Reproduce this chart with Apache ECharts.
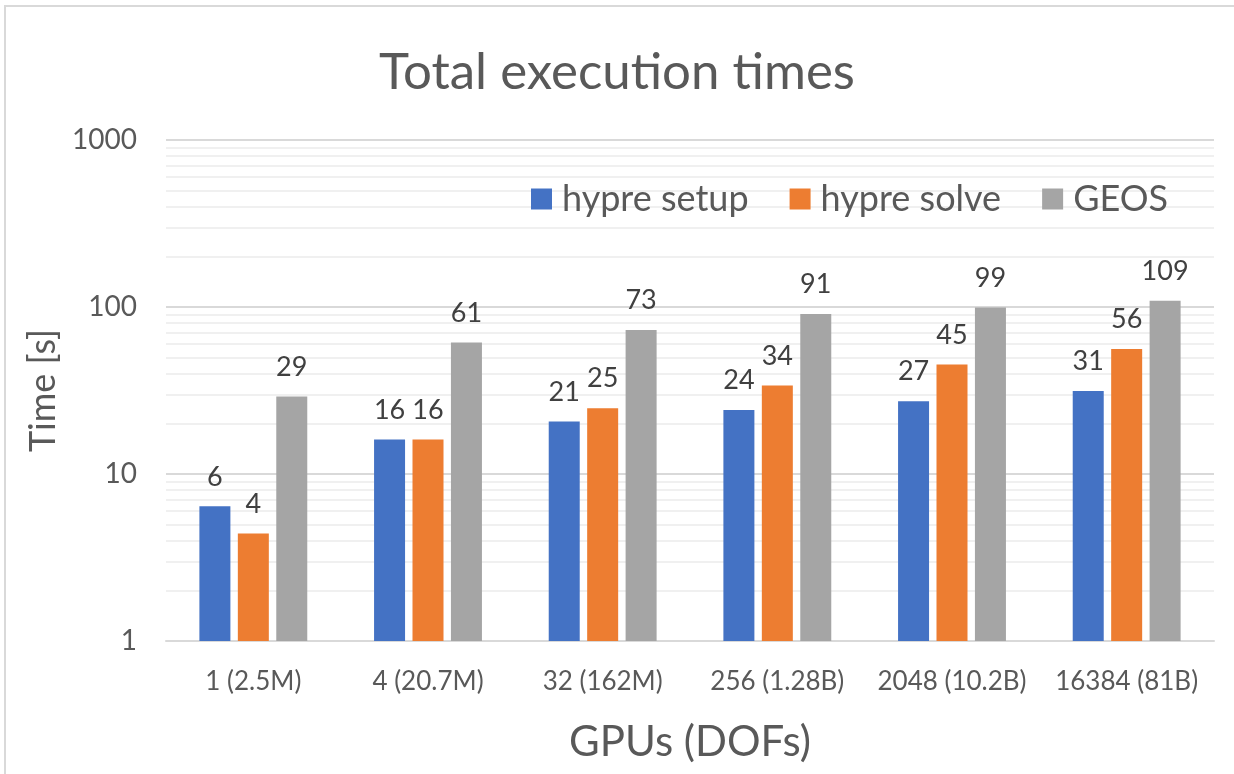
<!DOCTYPE html>
<html><head><meta charset="utf-8">
<script src="https://cdn.jsdelivr.net/npm/echarts@6/dist/echarts.min.js"></script>
<style>html,body{margin:0;padding:0;background:#fff}#c{width:1234px;height:774px}</style>
</head><body><div id="c"></div>
<script>
const categories = ['1 (2.5M)', '4 (20.7M)', '32 (162M)', '256 (1.28B)', '2048 (10.2B)', '16384 (81B)'];
const seriesNames = ['hypre setup', 'hypre solve', 'GEOS'];
const hypreSetup = [6.4, 16.1, 20.6, 24.2, 27.3, 31.4];
const hypreSolve = [4.4, 16.1, 24.8, 33.9, 45.3, 56.0];
const geos = [29.1, 61.3, 72.8, 90.8, 99.2, 109.1];
const minorGrid = [2,3,4,5,6,7,8,9,20,30,40,50,60,70,80,90,200,300,400,500,600,700,800,900];
const colors = ['#4472C4', '#ED7D31', '#A5A5A5'];
const FONT = 'Lato';

const chart = echarts.init(document.getElementById('c'), null, {renderer: 'canvas'});
const labelCfg = {
  show: true, position: 'top', distance: 16,
  fontFamily: FONT, fontSize: 27, color: '#404040',
  formatter: p => Math.round(p.value)
};
const mkSeries = (name, data, i) => ({
  name, type: 'bar', data, barWidth: 31, barGap: '24%', barCategoryGap: '38%',
  itemStyle: {color: colors[i]}, label: labelCfg, z: 2,
  markLine: i === 0 ? {
    silent: true, symbol: 'none', z: 1, animation: false,
    label: {show: false},
    lineStyle: {color: '#f0f0f0', width: 2, type: 'solid'},
    data: minorGrid.map(v => ({yAxis: v}))
  } : undefined
});

chart.setOption({
  animation: false,
  backgroundColor: '#fff',
  title: {
    text: 'Total execution times', left: 'center', top: 42,
    textStyle: {fontFamily: FONT, fontSize: 51, fontWeight: 'normal', color: '#595959'}
  },
  legend: {
    data: seriesNames, left: 526, top: 176,
    itemWidth: 21, itemHeight: 21, itemGap: 41, icon: 'rect',
    textStyle: {fontFamily: FONT, fontSize: 36, color: '#595959', padding: [0, 0, 0, 5]}
  },
  grid: {left: 166, right: 20, top: 140, bottom: 133, containLabel: false},
  xAxis: {
    type: 'category', data: categories,
    axisLine: {lineStyle: {color: '#d9d9d9', width: 2}},
    axisTick: {show: false},
    axisLabel: {fontFamily: FONT, fontSize: 26, color: '#595959', margin: 28, interval: 0},
    name: 'GPUs (DOFs)', nameLocation: 'middle', nameGap: 80,
    nameTextStyle: {fontFamily: FONT, fontSize: 42, color: '#595959'}
  },
  yAxis: {
    type: 'log', logBase: 10, min: 1, max: 1000,
    axisLine: {show: false}, axisTick: {show: false},
    axisLabel: {fontFamily: FONT, fontSize: 28, color: '#595959', margin: 29, formatter: v => String(v)},
    splitLine: {lineStyle: {color: '#d9d9d9', width: 2}},
    name: 'Time [s]', nameLocation: 'middle', nameGap: 104,
    nameTextStyle: {fontFamily: FONT, fontSize: 36, color: '#595959'}
  },
  graphic: [{
    type: 'rect', shape: {x: 5, y: 6, width: 1300, height: 900},
    style: {fill: 'none', stroke: '#d9d9d9', lineWidth: 2}, silent: true, z: -1
  }],
  series: [
    mkSeries(seriesNames[0], hypreSetup, 0),
    mkSeries(seriesNames[1], hypreSolve, 1),
    mkSeries(seriesNames[2], geos, 2)
  ]
});
</script></body></html>
